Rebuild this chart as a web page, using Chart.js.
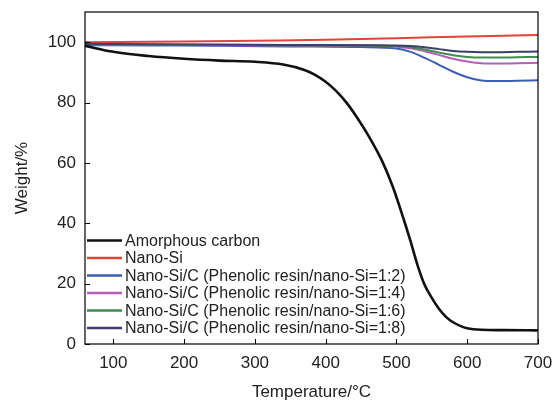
<!DOCTYPE html>
<html>
<head>
<meta charset="utf-8">
<script src="https://cdn.jsdelivr.net/npm/chart.js@4/dist/chart.umd.min.js"></script>
<style>
  html, body { margin: 0; padding: 0; background: #fff; }
  #wrap { width: 556px; height: 402px; position: relative; }
</style>
</head>
<body>
<div id="wrap"><canvas id="tgaChart"></canvas></div>
<script>
// TGA curves, values

const seriesNames = [
  "Amorphous carbon",
  "Nano-Si",
  "Nano-Si/C (Phenolic resin/nano-Si=1:2)",
  "Nano-Si/C (Phenolic resin/nano-Si=1:4)",
  "Nano-Si/C (Phenolic resin/nano-Si=1:6)",
  "Nano-Si/C (Phenolic resin/nano-Si=1:8)"
];

// amorphous carbon
const carbonTemp = [60, 100, 150, 200, 250, 300, 340, 370, 385, 400, 415, 430, 445, 460, 480, 495, 510, 520, 530, 540, 550, 560, 570, 580, 590, 600, 620, 650, 700];
const carbonWeight = [98.8, 96.8, 95.4, 94.5, 93.9, 93.5, 92.6, 90.8, 89.2, 86.9, 83.8, 79.8, 74.8, 69.2, 60.5, 52, 41.5, 34, 26, 19.5, 15.3, 11.7, 9, 7.2, 6, 5.2, 4.7, 4.6, 4.5];

// nano-Si
const siTemp = [60, 200, 300, 400, 500, 600, 700];
const siWeight = [100, 100.2, 100.5, 100.8, 101.3, 101.9, 102.4];

// composites share one temperature grid
const compTemp = [60, 150, 250, 350, 450, 500, 520, 540, 560, 580, 600, 620, 640, 670, 700];
const ratio12 = [99.0, 98.9, 98.8, 98.6, 98.4, 97.9, 96.8, 94.8, 92.5, 90.2, 88.4, 87.3, 87.1, 87.2, 87.4];
const ratio14 = [99.2, 99.1, 99.0, 98.9, 98.8, 98.5, 98.0, 97.0, 95.8, 94.5, 93.6, 93.0, 92.9, 93.0, 93.2];
const ratio16 = [99.3, 99.2, 99.1, 99.0, 98.9, 98.7, 98.3, 97.6, 96.6, 95.7, 95.1, 94.9, 94.9, 95.0, 95.1];
const ratio18 = [99.5, 99.3, 99.2, 99.1, 99.0, 98.9, 98.7, 98.3, 97.7, 97.1, 96.8, 96.7, 96.7, 96.8, 96.9];

// tick labels
const xTicks = [100, 200, 300, 400, 500, 600, 700];
const yTicks = [0, 20, 40, 60, 80, 100];

const colors = ["#111111", "#e2443a", "#3b5db3", "#b45fb8", "#3f8e50", "#3d3f68"];
const widths = [2.6, 2, 2, 2, 2, 2];

function pts(xs, ys) {
  return xs.map((x, i) => ({ x: x, y: ys[i] }));
}

const seriesData = [
  pts(carbonTemp, carbonWeight),
  pts(siTemp, siWeight),
  pts(compTemp, ratio12),
  pts(compTemp, ratio14),
  pts(compTemp, ratio16),
  pts(compTemp, ratio18)
];

const FONT = '"Liberation Sans", Arial, sans-serif';
const TEXT = "#222";

// box around plot, inward ticks and the legend inside the plot
const framePlugin = {
  id: "frame",
  afterDatasetsDraw(chart) {
    const { ctx, chartArea: a, scales } = chart;
    ctx.save();
    ctx.strokeStyle = "#000";
    ctx.lineWidth = 1.2;
    ctx.strokeRect(a.left, a.top, a.right - a.left, a.bottom - a.top);

    ctx.beginPath();
    xTicks.forEach(v => {
      const px = Math.round(scales.x.getPixelForValue(v)) + 0.5;
      ctx.moveTo(px, a.bottom);
      ctx.lineTo(px, a.bottom - 5);
    });
    yTicks.forEach(v => {
      const py = Math.round(scales.y.getPixelForValue(v)) + 0.5;
      ctx.moveTo(a.left, py);
      ctx.lineTo(a.left + 5, py);
    });
    ctx.lineWidth = 1;
    ctx.stroke();

    // legend
    const n = chart.data.datasets.length;
    ctx.font = "16px " + FONT;
    ctx.textBaseline = "middle";
    ctx.textAlign = "left";
    chart.data.datasets.forEach((ds, i) => {
      const yy = a.bottom - 16 - 17.5 * (n - 1 - i);
      ctx.beginPath();
      ctx.strokeStyle = ds.borderColor;
      ctx.lineWidth = 2.5;
      ctx.moveTo(a.left + 2, yy);
      ctx.lineTo(a.left + 37, yy);
      ctx.stroke();
      ctx.fillStyle = TEXT;
      ctx.fillText(ds.label, a.left + 40, yy + 1);
    });
    ctx.restore();
  }
};

new Chart(document.getElementById("tgaChart"), {
  type: "line",
  data: {
    datasets: seriesNames.map((name, i) => ({
      label: name,
      data: seriesData[i],
      borderColor: colors[i],
      borderWidth: widths[i],
      pointRadius: 0,
      fill: false,
      cubicInterpolationMode: "monotone",
      order: i === 0 ? 0 : 7 - i
    }))
  },
  options: {
    responsive: true,
    maintainAspectRatio: false,
    animation: false,
    layout: { padding: { top: 12, right: 18, left: 0, bottom: 0 } },
    plugins: {
      legend: { display: false },
      tooltip: { enabled: false }
    },
    scales: {
      x: {
        type: "linear",
        min: 60,
        max: 700,
        afterBuildTicks: s => { s.ticks = xTicks.map(v => ({ value: v })); },
        afterFit: s => { s.height = 58; s.paddingLeft = 0; s.paddingRight = 0; },
        grid: { display: false, drawTicks: false },
        border: { display: false },
        ticks: { padding: 9, color: TEXT, font: { family: FONT, size: 17 }, maxRotation: 0 },
        title: {
          display: true,
          text: "Temperature/°C",
          color: TEXT,
          font: { family: FONT, size: 17 },
          padding: { top: 0, bottom: -1 }
        }
      },
      y: {
        min: 0,
        max: 110,
        afterBuildTicks: s => { s.ticks = yTicks.map(v => ({ value: v })); },
        afterFit: s => { s.width = 85; s.paddingTop = 0; s.paddingBottom = 0; },
        grid: { display: false, drawTicks: false },
        border: { display: false },
        ticks: { padding: 9, color: TEXT, font: { family: FONT, size: 17 } },
        title: {
          display: true,
          text: "Weight/%",
          color: TEXT,
          font: { family: FONT, size: 17 },
          padding: { top: 12, bottom: 0 }
        }
      }
    }
  },
  plugins: [framePlugin]
});
</script>
</body>
</html>
